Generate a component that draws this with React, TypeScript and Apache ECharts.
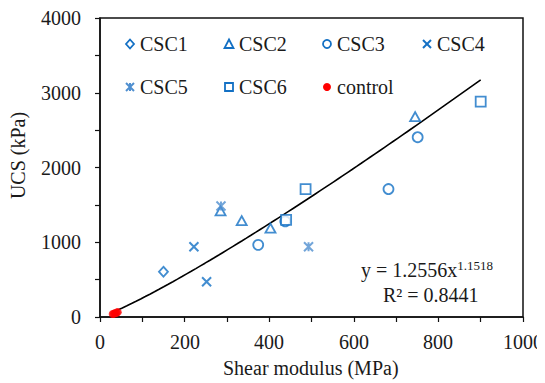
import React, { useEffect, useRef } from "react";
import * as echarts from "echarts";

// Data (Shear modulus MPa, UCS kPa)
const csc1: [number, number][] = [[150, 605]];
const csc2: [number, number][] = [[285, 1420], [335, 1290], [403, 1190], [745, 2680]];
const csc3: [number, number][] = [[374, 965], [438, 1280], [682, 1712], [751, 2405]];
const csc4: [number, number][] = [[222, 940], [252, 472]];
const csc5: [number, number][] = [[286, 1485], [493, 940]];
const csc6: [number, number][] = [[440, 1300], [486, 1712], [900, 2880]];
const control: [number, number][] = [[30, 40], [33, 45], [36, 50], [39, 58], [42, 65]];

// Power trendline shown on the chart: y = a * x^b
const fitA = 1.2556;
const fitB = 1.1518;
const fitXStart = 31;
const fitXEnd = 900;

const xTicks = [0, 200, 400, 600, 800, 1000];
const yTicks = [0, 1000, 2000, 3000, 4000];
const xName = "Shear modulus (MPa)";
const yName = "UCS (kPa)";
const legendRows = [
  ["CSC1", "CSC2", "CSC3", "CSC4"],
  ["CSC5", "CSC6", "control"],
];

const FONT = "serif";
const BLUE = "#1370C4";
const LIGHTBLUE = "#4F8FD0";
const TEXT = "#1a1a1a";

const crossPath = "path://M0,0L10,10M10,0L0,10";
const starPath = "path://M0,0L10,10M10,0L0,10M5,0L5,10";

function legendIcon(name: string, x: number, y: number): any[] {
  const hollow = { fill: "#fff", stroke: BLUE, lineWidth: 1.8 };
  const ln = (c: string, x1: number, y1: number, x2: number, y2: number) => ({
    type: "line",
    shape: { x1, y1, x2, y2 },
    style: { stroke: c, lineWidth: 2 },
  });
  switch (name) {
    case "CSC1":
      return [{ type: "polygon", shape: { points: [[x, y - 4.5], [x + 4, y], [x, y + 4.5], [x - 4, y]] }, style: hollow }];
    case "CSC2":
      return [{ type: "polygon", shape: { points: [[x, y - 4.5], [x + 4.5, y + 4], [x - 4.5, y + 4]] }, style: hollow }];
    case "CSC3":
      return [{ type: "circle", shape: { cx: x, cy: y, r: 4 }, style: hollow }];
    case "CSC4":
      return [ln(BLUE, x - 4, y - 4, x + 4, y + 4), ln(BLUE, x + 4, y - 4, x - 4, y + 4)];
    case "CSC5":
      return [
        ln(LIGHTBLUE, x - 4, y - 4, x + 4, y + 4),
        ln(LIGHTBLUE, x + 4, y - 4, x - 4, y + 4),
        ln(LIGHTBLUE, x, y - 4, x, y + 4),
      ];
    case "CSC6":
      return [{ type: "rect", shape: { x: x - 4, y: y - 4, width: 8, height: 8 }, style: hollow }];
    default:
      return [{ type: "circle", shape: { cx: x, cy: y, r: 4 }, style: { fill: "#FF0000" } }];
  }
}

export default function App() {
  const ref = useRef<HTMLDivElement>(null);
  useEffect(() => {
    if (!ref.current) return;
    const chart = echarts.init(ref.current, undefined, { renderer: "svg" });

    const fitData: [number, number][] = [];
    const steps = 80;
    for (let i = 0; i <= steps; i++) {
      const x = fitXStart + ((fitXEnd - fitXStart) * i) / steps;
      fitData.push([x, fitA * Math.pow(x, fitB)]);
    }

    const hollow = (color: string) => ({ color: "#fff", borderColor: color, borderWidth: 1.8 });
    const stroke = (color: string) => ({ color: "none", borderColor: color, borderWidth: 2 });

    chart.setOption({
      animation: false,
      backgroundColor: "#fff",
      grid: { left: 100, right: 22, top: 18, bottom: 66, show: true, borderColor: "#111", borderWidth: 1.5 },
      xAxis: {
        type: "value",
        min: xTicks[0],
        max: xTicks[xTicks.length - 1],
        interval: 200,
        axisLine: { onZero: false, lineStyle: { color: "#111", width: 1.5 } },
        axisTick: { show: true, length: 5, lineStyle: { color: "#111", width: 1.2 } },
        minorTick: { show: true, splitNumber: 2, length: 5, lineStyle: { color: "#111", width: 1.2 } },
        axisLabel: { show: false },
        splitLine: { show: false },
      },
      yAxis: {
        type: "value",
        min: yTicks[0],
        max: yTicks[yTicks.length - 1],
        interval: 1000,
        axisLine: { onZero: false, lineStyle: { color: "#111", width: 1.5 } },
        axisTick: { show: true, length: 5, lineStyle: { color: "#111", width: 1.2 } },
        minorTick: { show: true, splitNumber: 2, length: 5, lineStyle: { color: "#111", width: 1.2 } },
        axisLabel: { show: false },
        splitLine: { show: false },
      },
      series: [
        {
          name: "Fit",
          type: "line",
          data: fitData,
          showSymbol: false,
          symbol: "none",
          lineStyle: { color: "#000", width: 1.6 },
          z: 1,
          silent: true,
        },
        { name: "CSC1", type: "scatter", data: csc1, symbol: "diamond", symbolSize: [9, 10], itemStyle: hollow(BLUE), z: 3 },
        { name: "CSC2", type: "scatter", data: csc2, symbol: "triangle", symbolSize: [10, 9], itemStyle: hollow(BLUE), z: 3 },
        { name: "CSC3", type: "scatter", data: csc3, symbol: "circle", symbolSize: 10, itemStyle: hollow(BLUE), z: 3 },
        { name: "CSC4", type: "scatter", data: csc4, symbol: crossPath, symbolSize: 9, itemStyle: stroke(BLUE), z: 3 },
        { name: "CSC5", type: "scatter", data: csc5, symbol: starPath, symbolSize: 9, itemStyle: stroke(LIGHTBLUE), z: 3 },
        { name: "CSC6", type: "scatter", data: csc6, symbol: "rect", symbolSize: 10, itemStyle: hollow(BLUE), z: 3 },
        { name: "control", type: "scatter", data: control, symbol: "circle", symbolSize: 8, itemStyle: { color: "#FF0000" }, z: 4 },
      ],
    });

    // text width measurement for placing labels with left/top
    const canvas = document.createElement("canvas");
    const ctx = canvas.getContext("2d");
    const measure = (s: string) => {
      if (!ctx) return s.length * 10;
      ctx.font = "20px serif";
      return ctx.measureText(s).width;
    };

    // Plain text placed by its box's left/top (digit centre ≈ top + 10)
    const L = (text: string, left: number, cy: number) => ({
      type: "text",
      left: Math.round(left),
      top: Math.round(cy - 10),
      z: 10,
      style: { text, fontFamily: FONT, fontSize: 20, fill: TEXT },
    });

    const g: any[] = [];
    const xAxisY = chart.convertToPixel({ yAxisIndex: 0 }, yTicks[0]) as number;
    const yAxisX = chart.convertToPixel({ xAxisIndex: 0 }, xTicks[0]) as number;
    const xEnd = chart.convertToPixel({ xAxisIndex: 0 }, xTicks[xTicks.length - 1]) as number;
    const yEnd = chart.convertToPixel({ yAxisIndex: 0 }, yTicks[yTicks.length - 1]) as number;

    xTicks.forEach((v) => {
      const s = String(v);
      const px = chart.convertToPixel({ xAxisIndex: 0 }, v) as number;
      g.push(L(s, px - measure(s) / 2, xAxisY + 25));
    });
    yTicks.forEach((v) => {
      const s = String(v);
      const py = chart.convertToPixel({ yAxisIndex: 0 }, v) as number;
      g.push(L(s, yAxisX - 19 - measure(s), py));
    });
    g.push(L(xName, (yAxisX + xEnd) / 2 - 1 - measure(xName) / 2, xAxisY + 51));
    g.push({
      type: "text",
      x: yAxisX - 82,
      y: (xAxisY + yEnd) / 2 - 12,
      rotation: Math.PI / 2,
      z: 10,
      style: { text: yName, fontFamily: FONT, fontSize: 20, fill: TEXT, align: "center", verticalAlign: "middle" },
    });

    const colX = [130, 229, 327, 427];
    const rowY = [44, 87];
    legendRows.forEach((row, ri) => {
      row.forEach((name, ci) => {
        legendIcon(name, colX[ci], rowY[ri]).forEach((el) => g.push({ ...el, z: 10 }));
        g.push(L(name, colX[ci] + 10, rowY[ri]));
      });
    });

    g.push({
      type: "text",
      left: 361,
      top: 259,
      z: 10,
      style: {
        text: "{a|y = 1.2556x}{b|1.1518}",
        rich: {
          a: { fontFamily: FONT, fontSize: 20, fill: TEXT, lineHeight: 22 },
          b: { fontFamily: FONT, fontSize: 13, fill: TEXT, lineHeight: 14, verticalAlign: "top", padding: [0, 0, 6, 0] },
        },
      },
    });
    g.push({
      type: "text",
      left: 383,
      top: 285,
      z: 10,
      style: { text: "R² = 0.8441", fontFamily: FONT, fontSize: 20, fill: TEXT },
    });

    chart.setOption({ graphic: g });
    return () => chart.dispose();
  }, []);
  return <div ref={ref} style={{ width: 545, height: 383, marginLeft: -8, marginTop: -8 }} />;
}
